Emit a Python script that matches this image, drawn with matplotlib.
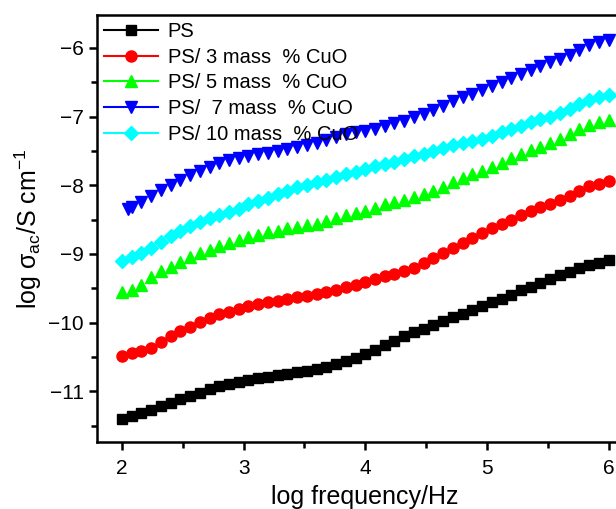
import matplotlib
matplotlib.use('Agg')
import matplotlib.pyplot as plt
from matplotlib.lines import Line2D
from matplotlib.ticker import MultipleLocator

plt.rcParams['font.family'] = ['Liberation Sans', 'DejaVu Sans']
plt.rcParams['mathtext.default'] = 'regular'

log_f = [2.00, 2.08, 2.16, 2.24, 2.32, 2.40, 2.48, 2.56, 2.64, 2.72,
         2.80, 2.88, 2.96, 3.04, 3.12, 3.20, 3.28, 3.36, 3.44, 3.52,
         3.60, 3.68, 3.76, 3.84, 3.92, 4.00, 4.08, 4.16, 4.24, 4.32,
         4.40, 4.48, 4.56, 4.64, 4.72, 4.80, 4.88, 4.96, 5.04, 5.12,
         5.20, 5.28, 5.36, 5.44, 5.52, 5.60, 5.68, 5.76, 5.84, 5.92, 6.00]

ps = [-11.40, -11.36, -11.32, -11.27, -11.22, -11.17, -11.12, -11.07, -11.02, -10.97,
      -10.93, -10.89, -10.86, -10.84, -10.81, -10.79, -10.77, -10.75, -10.72, -10.70,
      -10.68, -10.65, -10.61, -10.56, -10.51, -10.46, -10.40, -10.33, -10.27, -10.20,
      -10.14, -10.09, -10.03, -9.98, -9.92, -9.87, -9.81, -9.76, -9.70, -9.66,
      -9.60, -9.53, -9.48, -9.43, -9.37, -9.31, -9.26, -9.21, -9.16, -9.13, -9.09]

cuo3 = [-10.48, -10.44, -10.41, -10.37, -10.28, -10.19, -10.12, -10.06, -9.99, -9.93,
        -9.88, -9.84, -9.80, -9.76, -9.73, -9.70, -9.68, -9.65, -9.63, -9.61,
        -9.58, -9.55, -9.52, -9.48, -9.45, -9.41, -9.36, -9.32, -9.29, -9.25,
        -9.20, -9.13, -9.06, -8.99, -8.92, -8.84, -8.77, -8.69, -8.62, -8.56,
        -8.50, -8.43, -8.37, -8.31, -8.27, -8.21, -8.15, -8.08, -8.01, -7.98, -7.94]

cuo5 = [-9.55, -9.52, -9.45, -9.34, -9.25, -9.19, -9.12, -9.05, -8.99, -8.94,
        -8.89, -8.84, -8.80, -8.76, -8.72, -8.68, -8.66, -8.63, -8.61, -8.58,
        -8.56, -8.52, -8.48, -8.44, -8.40, -8.37, -8.33, -8.28, -8.25, -8.22,
        -8.17, -8.13, -8.08, -8.02, -7.96, -7.90, -7.84, -7.79, -7.73, -7.68,
        -7.60, -7.54, -7.49, -7.44, -7.39, -7.33, -7.26, -7.18, -7.12, -7.08, -7.05]

cuo7 = [-8.35, -8.31, -8.24, -8.15, -8.07, -8.00, -7.92, -7.85, -7.79, -7.73,
        -7.68, -7.63, -7.60, -7.57, -7.55, -7.53, -7.50, -7.47, -7.44, -7.41,
        -7.38, -7.34, -7.30, -7.26, -7.23, -7.21, -7.18, -7.14, -7.10, -7.06,
        -7.01, -6.96, -6.90, -6.84, -6.78, -6.72, -6.67, -6.62, -6.56, -6.50,
        -6.44, -6.38, -6.32, -6.26, -6.21, -6.16, -6.10, -6.03, -5.96, -5.92, -5.88]

cuo10 = [-9.10, -9.05, -8.99, -8.91, -8.82, -8.74, -8.67, -8.60, -8.54, -8.48,
         -8.43, -8.39, -8.34, -8.28, -8.23, -8.18, -8.13, -8.08, -8.03, -7.99,
         -7.96, -7.92, -7.88, -7.84, -7.80, -7.76, -7.72, -7.69, -7.66, -7.62,
         -7.58, -7.54, -7.50, -7.46, -7.42, -7.39, -7.36, -7.32, -7.28, -7.23,
         -7.18, -7.13, -7.08, -7.04, -7.00, -6.95, -6.89, -6.82, -6.76, -6.72, -6.68]

# blue series starts a little later than the others
log_f7 = [2.05] + log_f[1:]

labels = ['PS', 'PS/ 3 mass  % CuO', 'PS/ 5 mass  % CuO',
          'PS/  7 mass  % CuO', 'PS/ 10 mass  % CuO']
colors = ['black', '#ff0000', '#00ff00', '#0000ff', '#00ffff']
markers = ['s', 'o', '^', 'v', 'D']
sizes = [7, 8, 8, 8.5, 7]

fig = plt.figure(figsize=(6.16, 5.09), dpi=100)
ax = fig.add_axes([0.1575, 0.1316, 0.87, 0.839])

series = [(log_f, ps), (log_f, cuo3), (log_f, cuo5), (log_f7, cuo7), (log_f, cuo10)]
handles = []
for (x, y), c, m, s, lab in zip(series, colors, markers, sizes, labels):
    ax.plot(x, y, ls='none', marker=m, ms=s, color=c, mec=c)
    handles.append(Line2D([], [], color=c, marker=m, ms=s, lw=1.5, label=lab))

ax.set_xlim(1.795, 6.2)
ax.set_ylim(-11.74, -5.52)
ax.xaxis.set_major_locator(MultipleLocator(1))
ax.xaxis.set_minor_locator(MultipleLocator(0.5))
ax.yaxis.set_major_locator(MultipleLocator(1))
ax.yaxis.set_minor_locator(MultipleLocator(0.5))
ax.tick_params(which='both', direction='out', width=1.8, labelsize=15)
ax.tick_params(axis='x', pad=6)
ax.tick_params(which='major', length=6)
ax.tick_params(which='minor', length=4)
for sp in ax.spines.values():
    sp.set_linewidth(1.8)

ax.set_xlabel('log frequency/Hz', fontsize=18, labelpad=5)
ax.set_ylabel('log σ$_{ac}$/S cm$^{-1}$', fontsize=18, labelpad=3)

ax.legend(handles=handles, loc='upper left', frameon=False, fontsize=14.5,
          handlelength=2.7, handletextpad=0.45, labelspacing=0.33,
          borderaxespad=0.2, borderpad=0.15)

fig.savefig('out.png', dpi=100)
